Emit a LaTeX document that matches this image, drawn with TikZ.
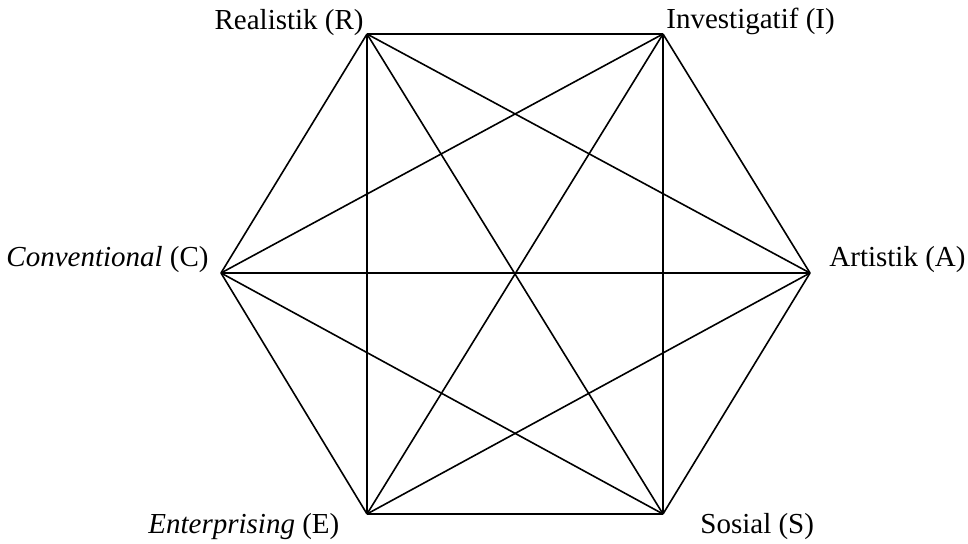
\documentclass[tikz,border=0pt]{standalone}
\usepackage{fontspec}
\setmainfont{Liberation Serif}
\begin{document}
\begin{tikzpicture}[x=0.5pt,y=-0.5pt,
  edge/.style={line width=0.8pt,line join=round},
  lbl/.style={inner sep=0pt,font=\fontsize{14.5}{17}\selectfont}]
\useasboundingbox (0,0) rectangle (968,544);
\coordinate (R) at (367,34);
\coordinate (I) at (663,34);
\coordinate (A) at (810,273);
\coordinate (S) at (663,514);
\coordinate (E) at (367,514);
\coordinate (C) at (221,273);
\foreach \a/\b in {R/I,R/A,R/S,R/E,R/C,I/A,I/S,I/E,I/C,A/S,A/E,A/C,S/E,S/C,E/C}
  \draw[edge] (\a) -- (\b);
\node[lbl,anchor=base east] (lR) at (364,30) {Realistik (R)};
\node[lbl,anchor=base west] (lI) at (666,29) {Investigatif (I)};
\node[lbl,anchor=base east] (lC) at (209,267) {\textit{Conventional} (C)};
\node[lbl,anchor=base west] (lA) at (829,267) {Artistik (A)};
\node[lbl,anchor=base west] (lE) at (148,533) {\textit{Enterprising} (E)};
\node[lbl,anchor=base west] (lS) at (700,533) {Sosial (S)};
\end{tikzpicture}
\end{document}
